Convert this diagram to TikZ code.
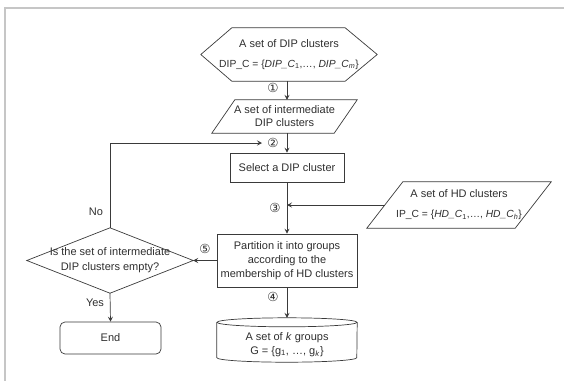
\documentclass[tikz,border=0pt]{standalone}
\usepackage{fontspec}
\setmainfont{Liberation Sans}
\newfontfamily\circfont{DejaVu Sans}
\usetikzlibrary{arrows.meta,calc}
\definecolor{ink}{HTML}{2E2E2E}
\definecolor{edge}{HTML}{3A3A3A}
\definecolor{framegray}{HTML}{C6C6C6}
\begin{document}
\begin{tikzpicture}[x=1pt,y=1pt,
  txt/.style={align=center, inner sep=0pt, text=ink,
    font=\fontsize{11}{14}\selectfont},
  outline/.style={draw=edge, line width=0.7pt},
  flow/.style={draw=edge, line width=0.7pt,
    -{Stealth[length=5pt,width=5pt,inset=2pt]}},
  num/.style={inner sep=0pt, text=ink, font=\circfont\fontsize{12.5}{14}\selectfont},
  lbl/.style={inner sep=0pt, text=ink, font=\fontsize{11}{13}\selectfont}]
\useasboundingbox (0,0) rectangle (564,-381);

% page frame
\draw[framegray, line width=1.6pt] (564,-8) -- (5,-8) -- (5,-381);

% hexagon: input clusters
\node[txt, minimum width=176pt, minimum height=53pt] (hex) at (289,-54.5)
  {A set of DIP clusters\\[6pt]
   {\fontsize{10.3}{12}\selectfont DIP\_C = \{\textit{DIP\_C}\textsubscript{1},…, \textit{DIP\_C\textsubscript{m}}\}}};
\draw[outline] (hex.west) -- ($(hex.north west)+(31,0)$) -- ($(hex.north east)+(-32,0)$)
  -- (hex.east) -- ($(hex.south east)+(-32,0)$) -- ($(hex.south west)+(31,0)$) -- cycle;

% parallelogram: intermediate clusters
\node[txt, minimum width=145pt, minimum height=33pt] (par) at (284.5,-116.5)
  {A set of intermediate\\[-1pt]DIP clusters};
\draw[outline] (par.south west) -- ($(par.north west)+(23,0)$) -- (par.north east)
  -- ($(par.south east)+(-23,0)$) -- cycle;

% process boxes
\node[txt, outline, minimum width=114pt, minimum height=29pt] (sel) at (287,-167.5)
  {Select a DIP cluster};
\node[txt, outline, minimum width=140pt, minimum height=53pt] (part) at (287,-260.5)
  {Partition it into groups\\according to the\\membership of HD clusters};

% parallelogram: HD clusters
\node[txt, minimum width=184pt, minimum height=46pt] (hd) at (459,-205)
  {A set of HD clusters\\[6pt]
   {\fontsize{10.3}{12}\selectfont IP\_C = \{\textit{HD\_C}\textsubscript{1},…, \textit{HD\_C\textsubscript{h}}\}}};
\draw[outline] (hd.south west) -- ($(hd.north west)+(36,0)$) -- (hd.north east)
  -- ($(hd.south east)+(-36,0)$) -- cycle;
\coordinate (hdin) at ($(hd.south west)!0.5!($(hd.north west)+(36,0)$)$);

% decision
\node[txt, minimum width=166pt, minimum height=65pt] (dia) at (110,-260.5)
  {Is the set of intermediate\\[1pt]DIP clusters empty?};
\draw[outline] (dia.west) -- (dia.north) -- (dia.east) -- (dia.south) -- cycle;

% terminator
\node[txt, outline, rounded corners=5pt, minimum width=101pt, minimum height=32pt]
  (stop) at (110.5,-338) {End};

% cylinder: resulting groups
\node[txt, minimum width=140pt, minimum height=35pt] (cyl) at (287,-344.5)
  {A set of \textit{k} groups\\
   G = \{g\textsubscript{1}, …, g\textsubscript{\textit{k}}\}};
\coordinate (cyltop) at ($(cyl.north)+(0,9)$);
\draw[outline] ($(cyl.north)+(0,4.5)$) ellipse [x radius=70, y radius=4.5];
\draw[outline] ($(cyl.north west)+(0,4.5)$) -- ($(cyl.south west)+(0,4.5)$)
  arc[start angle=180, end angle=360, x radius=70, y radius=4.5]
  -- ($(cyl.north east)+(0,4.5)$);

% connectors
\coordinate (back) at (262,-143);
\draw[flow] (sel.north |- hex.south) -- (sel.north |- par.north);
\draw[flow] (sel.north |- par.south) -- (sel.north);
\draw[flow] (sel.south) -- (part.north);
\draw[flow] (hdin) -- (hdin -| sel.south);
\draw[flow] (part.south) -- (cyltop);
\draw[flow] (part.west) -- (dia.east);
\draw[flow] (dia.south) -- (stop.north);
\draw[flow] (dia.north) |- (back);

% step numbers and branch labels
\node[num] (n1) at (273,-88) {①};
\node[num] (n2) at (273,-143) {②};
\node[num] (n3) at (275,-208) {③};
\node[num] (n4) at (273,-297) {④};
\node[num] (n5) at (205,-249) {⑤};
\node[lbl] (no) at (96,-212) {No};
\node[lbl] (yes) at (95,-303) {Yes};
\end{tikzpicture}
\end{document}
